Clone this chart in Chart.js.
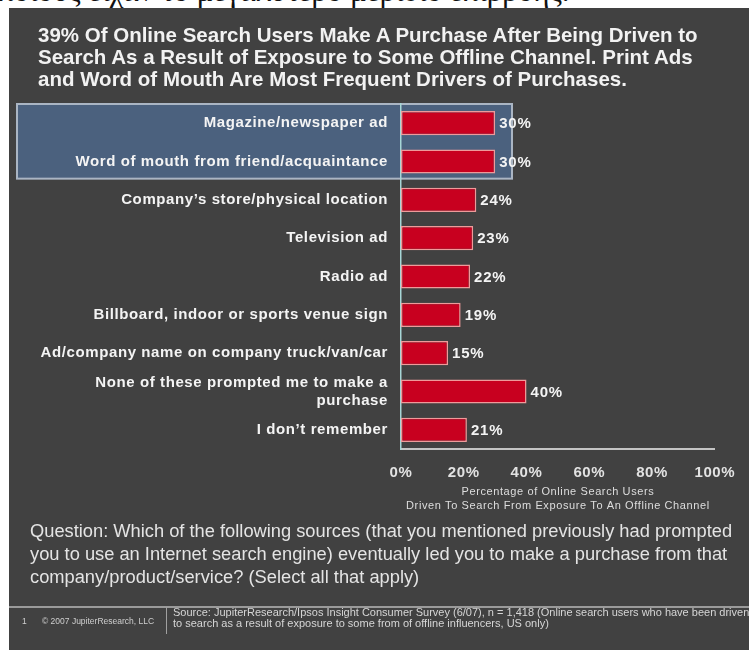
<!DOCTYPE html>
<html>
<head>
<meta charset="utf-8">
<script src="https://cdn.jsdelivr.net/npm/chart.js@4"></script>
<style>
  html, body { margin: 0; padding: 0; background: #fff; }
  #wrap { position: relative; width: 749px; height: 650px; overflow: hidden; font-family: "Liberation Sans", Arial, sans-serif; }
  #chart { position: absolute; left: 0; top: 0; }
  .txt { position: absolute; white-space: nowrap; }
  #greek { left: 0; top: 0; width: 749px; height: 8px; overflow: hidden; background: #fff; }
  #greek span { position: absolute; left: -2px; top: -25px; font: 31px "Liberation Serif", serif; color: #111; line-height: 31px; }
  #title { left: 38px; top: 24px; color: #f2f2f2; font-weight: bold; font-size: 20.5px; line-height: 22px; }
  #question { left: 30px; top: 519px; color: #e4e4e4; font-size: 18.3px; line-height: 23px; }
  #footL1 { left: 22px; top: 616px; color: #cfcfcf; font-size: 8.5px; }
  #footL2 { left: 42px; top: 616px; color: #cfcfcf; font-size: 8.5px; }
  #source { left: 173px; top: 607px; color: #d6d6d6; font-size: 11px; line-height: 11px; }
  #hline { position: absolute; left: 9px; top: 606px; width: 740px; height: 2px; background: #9a9a9a; }
  #vline { position: absolute; left: 166px; top: 607px; width: 1px; height: 27px; background: #a0a0a0; }
</style>
</head>
<body>
<div id="wrap">
  <canvas id="chart" width="749" height="650"></canvas>
  <div id="greek" class="txt"><span>ποιους είχαν το μεγαλύτερο μερίδιο επιρροής.</span></div>
  <div id="title" class="txt">39% Of Online Search Users Make A Purchase After Being Driven to<br>Search As a Result of Exposure to Some Offline Channel. Print Ads<br>and Word of Mouth Are Most Frequent Drivers of Purchases.</div>
  <div id="question" class="txt">Question: Which of the following sources (that you mentioned previously had prompted<br>you to use an Internet search engine) eventually led you to make a purchase from that<br>company/product/service? (Select all that apply)</div>
  <div id="hline"></div>
  <div id="vline"></div>
  <div id="footL1" class="txt">1</div>
  <div id="footL2" class="txt">© 2007 JupiterResearch, LLC</div>
  <div id="source" class="txt">Source: JupiterResearch/Ipsos Insight Consumer Survey (6/07), n = 1,418 (Online search users who have been driven<br>to search as a result of exposure to some from of offline influencers, US only)</div>
</div>
<script>
// Chart data
const categories = [
  'Magazine/newspaper ad',
  'Word of mouth from friend/acquaintance',
  'Company’s store/physical location',
  'Television ad',
  'Radio ad',
  'Billboard, indoor or sports venue sign',
  'Ad/company name on company truck/van/car',
  ['None of these prompted me to make a', 'purchase'],
  'I don’t remember'
];
const values = [30, 30, 24, 23, 22, 19, 15, 40, 21];
const xTicks = [0, 20, 40, 60, 80, 100];
const highlighted = [0, 1];
const axisTitle = ['Percentage of Online Search Users', 'Driven To Search From Exposure To An Offline Channel'];

// background panel + highlight box behind the first rows
const backdrop = {
  id: 'backdrop',
  beforeDraw(chart) {
    const ctx = chart.ctx;
    const y = chart.scales.y;
    ctx.save();
    ctx.fillStyle = '#fff';
    ctx.fillRect(0, 0, chart.width, chart.height);
    ctx.fillStyle = '#414141';
    ctx.fillRect(9, 8, chart.width - 9, chart.height - 8);
    const step = y.getPixelForValue(1) - y.getPixelForValue(0);
    const top = y.getPixelForValue(highlighted[0]) - step / 2;
    const bottom = y.getPixelForValue(highlighted[highlighted.length - 1]) + step / 2 - 2;
    ctx.fillStyle = '#4b617e';
    ctx.fillRect(17, top, 495, bottom - top);
    ctx.strokeStyle = '#aab5c3';
    ctx.lineWidth = 2;
    ctx.strokeRect(17, top, 495, bottom - top);
    ctx.restore();
    ctx.letterSpacing = '0.6px';
  }
};

// percentage labels at the end of each bar
const barLabels = {
  id: 'barLabels',
  afterDatasetsDraw(chart) {
    const ctx = chart.ctx;
    const meta = chart.getDatasetMeta(0);
    ctx.save();
    ctx.font = 'bold 15px "Liberation Sans", Arial, sans-serif';
    ctx.letterSpacing = '0.8px';
    ctx.fillStyle = '#f4f4f4';
    ctx.textAlign = 'left';
    ctx.textBaseline = 'middle';
    meta.data.forEach((bar, i) => {
      ctx.fillText(values[i] + '%', bar.x + 4, bar.y + 1);
    });
    ctx.restore();
  }
};

new Chart(document.getElementById('chart'), {
  type: 'bar',
  data: {
    labels: categories,
    datasets: [{
      data: values,
      backgroundColor: '#c8001f',
      borderColor: '#ee9a9a',
      borderWidth: 1.5,
      borderSkipped: false,
      barPercentage: 0.63,
      categoryPercentage: 1
    }]
  },
  options: {
    indexAxis: 'y',
    responsive: false,
    animation: false,
    layout: { padding: { left: 0, right: 30, top: 104, bottom: 137 } },
    plugins: { legend: { display: false }, tooltip: { enabled: false } },
    scales: {
      x: {
        min: 0,
        max: 100,
        afterBuildTicks: (s) => { s.ticks = xTicks.map(v => ({ value: v })); },
        afterFit: (s) => { s.height = 64; },
        ticks: {
          color: '#e2e2e2',
          font: { family: '"Liberation Sans", Arial, sans-serif', size: 15, weight: 'bold' },
          padding: 15,
          maxRotation: 0,
          callback: (v) => v + '%'
        },
        grid: { display: false, drawTicks: false },
        border: { display: true, color: '#c4c4c4', width: 2 },
        title: {
          display: true,
          text: axisTitle,
          color: '#dedede',
          font: { family: '"Liberation Sans", Arial, sans-serif', size: 11, lineHeight: 1.3 },
          padding: { top: 0, bottom: 0 }
        }
      },
      y: {
        afterFit: (s) => { s.width = 401; },
        ticks: {
          color: '#f4f4f4',
          font: { family: '"Liberation Sans", Arial, sans-serif', size: 15, weight: 'bold', lineHeight: 1.2 },
          padding: 13,
          autoSkip: false
        },
        grid: { display: false, drawTicks: false },
        border: { display: true, color: '#a6d6d6', width: 1.5 }
      }
    }
  },
  plugins: [backdrop, barLabels]
});
</script>
</body>
</html>
